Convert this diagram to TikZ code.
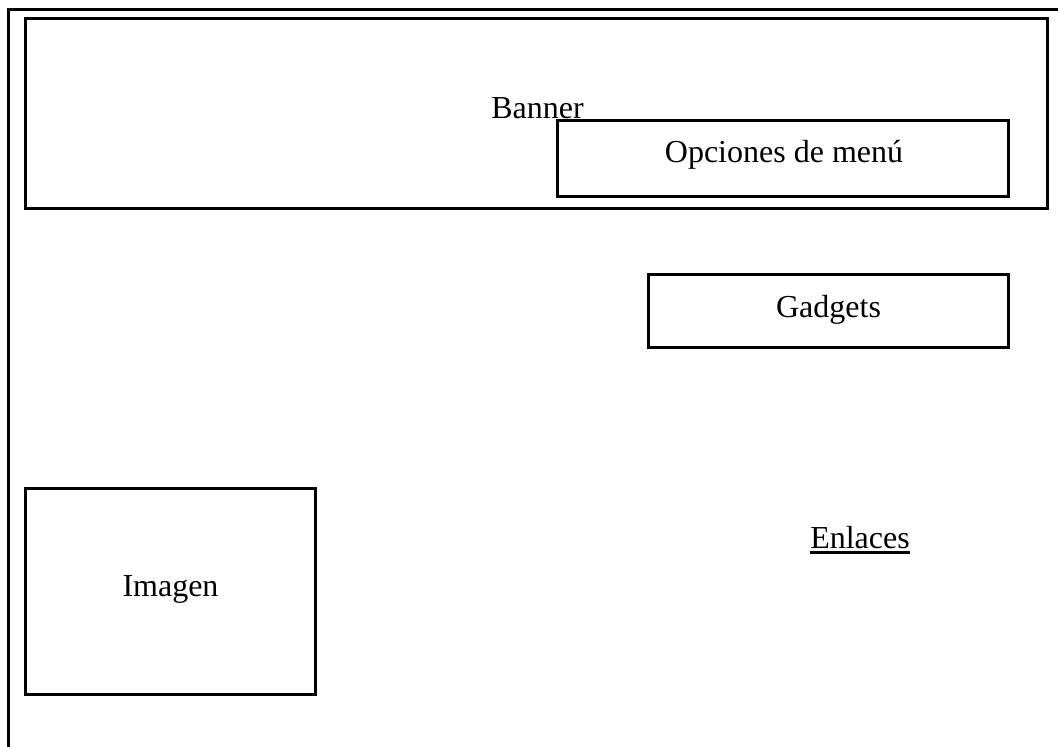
\documentclass[tikz,border=0pt]{standalone}
\usepackage{fontspec}
\setmainfont{Liberation Serif}
\usetikzlibrary{positioning}

\begin{document}
\begin{tikzpicture}[x=0.5pt,y=-0.5pt]
\tikzstyle{frame}=[line width=1.5pt,line join=miter]
\tikzstyle{box}=[draw=black,line width=1.5pt,rectangle,inner sep=0pt]
\tikzstyle{caption}=[inner sep=0pt,anchor=base,font=\fontsize{16pt}{18pt}\selectfont]

\useasboundingbox (0,0) rectangle (1058,747);

% page outline, open on the right and at the bottom
\coordinate (pagebottom) at (8.5,747);
\coordinate (pagecorner) at (8.5,9.5);
\coordinate (pageright) at (1058,9.5);
\draw[frame] (pagebottom) -- (pagecorner) -- (pageright);

\node[box,minimum width=511pt,minimum height=95pt] (banner) at (536.75,113.5) {};
\node[box,minimum width=225.75pt,minimum height=37.75pt] (menu) at (782.75,158.75) {};
\node[box,minimum width=180.25pt,minimum height=36.25pt] (gadgets) at (828.25,311.25) {};
\node[box,minimum width=145.25pt,minimum height=102.75pt] (image) at (170.25,591.75) {};

\node[caption] (bannertext) at (537.5,118.5) {Banner};
\node[caption] (menutext) at (784,163) {Opciones de menú};
\node[caption] (gadgetstext) at (828.5,318) {Gadgets};
\node[caption] (imagetext) at (170.5,596) {Imagen};
\node[caption] (linkstext) at (860,548) {Enlaces};

\draw[line width=1.5pt] ([yshift=-2pt]linkstext.base west) -- ([yshift=-2pt]linkstext.base east);
\end{tikzpicture}
\end{document}
